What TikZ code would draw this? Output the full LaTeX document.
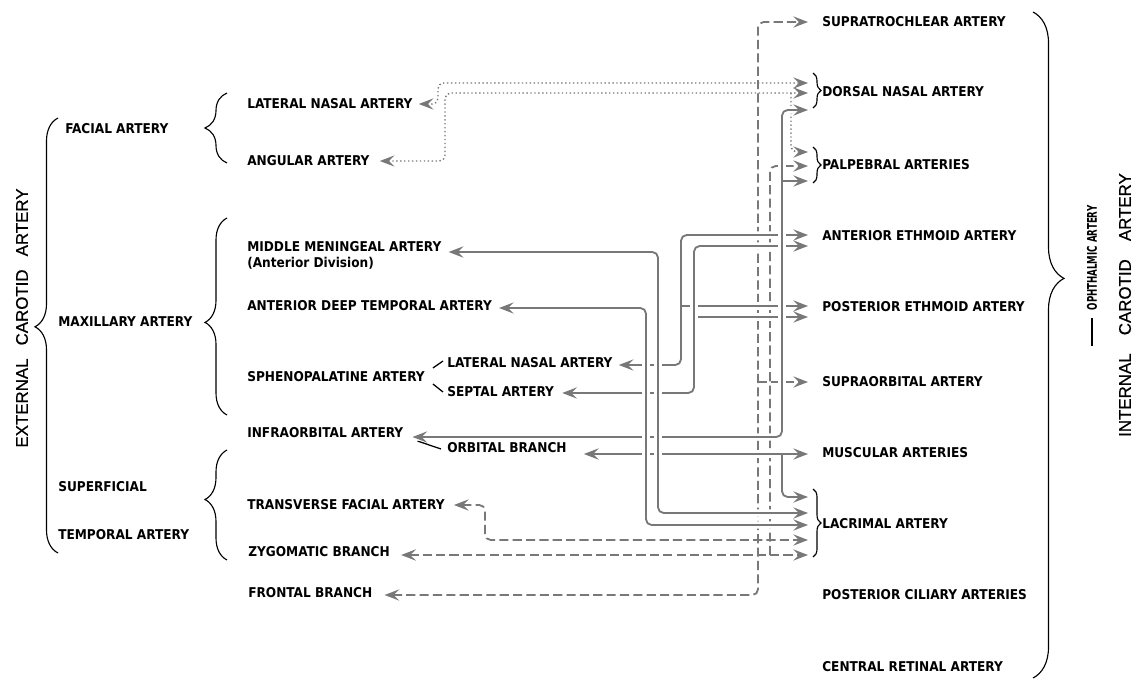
\documentclass[tikz,border=0pt]{standalone}
\usepackage{fontspec}
\setmainfont{DejaVu Sans Condensed}
\newfontfamily\wideface{Liberation Sans}[FakeBold=0.6]
\usetikzlibrary{arrows.meta,calc,decorations.pathreplacing}

\definecolor{vessel}{RGB}{120,120,120}

\newcommand*{\lblfont}{\bfseries\fontsize{9.6}{11.3}\selectfont}
\newcommand*{\bigfont}{\wideface\fontsize{12}{14}\selectfont}
\newcommand*{\tinyfont}{\bfseries\fontsize{9.5}{10}\selectfont}

\begin{document}
\begin{tikzpicture}
[
	lbl/.style={anchor=west,inner sep=0pt,font=\lblfont,text height=7pt,text depth=0pt},
	brc/.style={decorate,decoration={brace,amplitude=#1},line width=0.8pt},
	sol/.style={draw=vessel,line width=1.3pt,rounded corners=4pt},
	dsh/.style={sol,dash pattern=on 6.5pt off 3pt},
	dot/.style={sol,line width=1pt,dash pattern=on 1pt off 1.8pt},
	halo/.style={preaction={draw=white,line width=5pt,-,solid}},
	>={Stealth[length=10.5pt,width=8pt,inset=4pt]},
	x=0.025cm,
	y=-0.025cm
]
	\useasboundingbox (0,0) rectangle (1142,682);

	% external carotid side
	\node[rotate=90,inner sep=0pt,font=\bigfont] (extcar) at (22,318) {EXTERNAL\hspace{0.5em} CAROTID\hspace{0.5em} ARTERY};
	\draw[brc=0.575cm,decoration={aspect=0.52}] (58,553) -- (58,118);

	\node[lbl] (facial) at (65,129) {FACIAL ARTERY};
	\node[lbl] (maxil) at (58,322) {MAXILLARY ARTERY};
	\node[lbl] (suptempa) at (58,487) {SUPERFICIAL};
	\node[lbl] (suptempb) at (58,535) {TEMPORAL ARTERY};

	\draw[brc=0.55cm] (227,163) -- (227,93);
	\draw[brc=0.55cm,decoration={aspect=0.47}] (227,415) -- (227,218);
	\draw[brc=0.55cm,decoration={aspect=0.55}] (227,560) -- (227,450);

	% branches
	\node[lbl] (latnasal) at (247,104) {LATERAL NASAL ARTERY};
	\node[lbl] (angular) at (247,161) {ANGULAR ARTERY};
	\node[anchor=west,inner sep=0pt,font=\lblfont,align=left] (midmen) at (247,255) {MIDDLE MENINGEAL ARTERY\\(Anterior Division)};
	\node[lbl] (antdeep) at (247,306) {ANTERIOR DEEP TEMPORAL ARTERY};
	\node[lbl] (spheno) at (247,377) {SPHENOPALATINE ARTERY};
	\node[lbl] (latnasalsp) at (447,363) {LATERAL NASAL ARTERY};
	\node[lbl] (septal) at (447,392) {SEPTAL ARTERY};
	\node[lbl] (infraorb) at (247,433) {INFRAORBITAL ARTERY};
	\node[lbl] (orbital) at (447,448) {ORBITAL BRANCH};
	\node[lbl] (transfac) at (247,505) {TRANSVERSE FACIAL ARTERY};
	\node[lbl] (zygo) at (248,552) {ZYGOMATIC BRANCH};
	\node[lbl] (frontal) at (248,593) {FRONTAL BRANCH};

	\draw[line width=0.9pt] ($(spheno.east)+(8,-9)$) -- ($(latnasalsp.west)+(-4,-2)$);
	\draw[line width=0.9pt] ($(spheno.east)+(8,7)$) -- ($(septal.west)+(-4,0)$);
	\draw[line width=0.9pt] ($(infraorb.east)+(14,8)$) -- ($(orbital.west)+(-6,1)$);

	% ophthalmic side
	\node[lbl] (supratroch) at (822,22) {SUPRATROCHLEAR ARTERY};
	\node[lbl] (dorsal) at (822,92) {DORSAL NASAL ARTERY};
	\node[lbl] (palpeb) at (822,165) {PALPEBRAL ARTERIES};
	\node[lbl] (antethm) at (822,236) {ANTERIOR ETHMOID ARTERY};
	\node[lbl] (postethm) at (822,307) {POSTERIOR ETHMOID ARTERY};
	\node[lbl] (supraorb) at (822,382) {SUPRAORBITAL ARTERY};
	\node[lbl] (muscular) at (822,453) {MUSCULAR ARTERIES};
	\node[lbl] (lacrimal) at (822,524) {LACRIMAL ARTERY};
	\node[lbl] (postcil) at (822,595) {POSTERIOR CILIARY ARTERIES};
	\node[lbl] (centret) at (822,667) {CENTRAL RETINAL ARTERY};

	\draw[brc=0.2cm] (813,73) -- (813,108);
	\draw[brc=0.2cm] (813,147) -- (813,183);
	\draw[brc=0.2cm] (813,489) -- (813,557);

	\draw[brc=0.775cm,decoration={aspect=0.4}] (1033,12) -- (1033,678);
	\node[rotate=90,inner sep=0pt,font=\tinyfont] (ophth) at (1092,258) {\scalebox{0.72}[1]{OPHTHALMIC ARTERY}};
	\draw[line width=0.9pt] (1092,318) -- (1092,346);
	\node[rotate=90,inner sep=0pt,font=\bigfont] (intcar) at (1125,305) {INTERNAL\hspace{0.8em} CAROTID\hspace{0.8em} ARTERY};

	% facial artery (dotted)
	\draw[dot,<->] ($(latnasal.east)+(6,0)$) -| (438,83) -- ($(dorsal.west)+(-14,-9)$);
	\draw[dot,<->] ($(angular.east)+(10,0)$) -| (445,93) -- ($(dorsal.west)+(-14,1)$);
	\draw[dot,->] (791,93) |- ($(palpeb.west)+(-14,-13)$);

	% superficial temporal artery (dashed)
	\draw[dsh,<->] ($(frontal.east)+(12,2)$) -| (758,22) -- ($(supratroch.west)+(-14,0)$);
	\draw[dsh,->] (758,382) -- ($(supraorb.west)+(-14,0)$);
	\draw[dsh,<->] ($(transfac.east)+(9,0)$) -| (485,540) -- ($(lacrimal.west)+(-14,16)$);
	\draw[dsh,<->] ($(zygo.east)+(11,3)$) -- ($(lacrimal.west)+(-14,31)$);
	\draw[dsh,->] (770,555) |- ($(palpeb.west)+(-14,1)$);

	% maxillary artery (solid)
	\draw[sol,halo,<->] ($(midmen.east)+(7,-3)$) -| (658,513) -- ($(lacrimal.west)+(-14,-11)$);
	\draw[sol,halo,<->] ($(antdeep.east)+(7,2)$) -| (646,525) -- ($(lacrimal.west)+(-14,1)$);
	\draw[sol,halo,<->] ($(latnasalsp.east)+(6,2)$) -| (681,235) -- ($(antethm.west)+(-14,-1)$);
	\draw[sol,halo,<->] ($(septal.east)+(8,1)$) -| (694,246) -- ($(antethm.west)+(-14,10)$);
	\draw[sol,halo,->] (682,306) -- ($(postethm.west)+(-14,-1)$);
	\draw[sol,halo,->] (695,317) -- ($(postethm.west)+(-14,10)$);
	\draw[sol,halo,<->] ($(infraorb.east)+(9,4)$) -| (782,110) -- ($(dorsal.west)+(-14,18)$);
	\draw[sol,->] (782,181) -- ($(palpeb.west)+(-14,16)$);
	\draw[sol,halo,<->] ($(orbital.east)+(17,6)$) -- ($(muscular.west)+(-14,1)$);
	\draw[sol,->] (782,454) |- ($(lacrimal.west)+(-14,-27)$);

	% crossings
	\draw[sol,halo] (658,262) -- (658,503);
	\draw[sol,halo] (646,318) -- (646,515);
	\draw[sol,halo] (694,258) -- (694,380);
	\draw[sol,halo] (782,122) -- (782,176);
	\draw[sol,halo] (782,186) -- (782,425);

\end{tikzpicture}
\end{document}
